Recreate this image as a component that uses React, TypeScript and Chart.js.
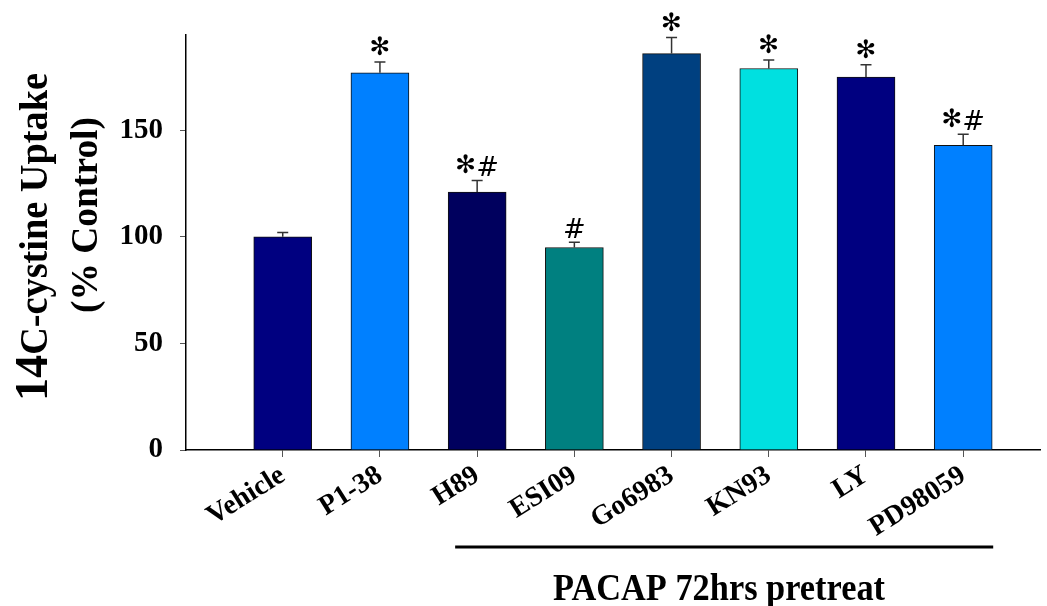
import React, { useEffect, useRef } from 'react';
import { Chart, registerables } from 'chart.js';

Chart.register(...registerables);

const categories = ['Vehicle', 'P1-38', 'H89', 'ESI09', 'Go6983', 'KN93', 'LY', 'PD98059'];
const uptake = [100, 177, 121, 95, 186, 179, 175, 143];
const sem = [2, 5, 5.5, 2.5, 7.5, 4, 5.8, 5.2];
const marks = ['', '*', '*#', '#', '*', '*', '*', '*#'];
const barColors = ['#000080', '#0080FF', '#00005E', '#008080', '#004080', '#00E0E0', '#000080', '#0080FF'];
const yTicks = [0, 50, 100, 150];
const yTitleNumber = '14';
const yTitleLine1 = 'C-cystine Uptake';
const yTitleLine2 = '(% Control)';
const groupLabel = 'PACAP 72hrs pretreat';
const groupFrom = 2;
const groupTo = 7;

const SERIF = '"Liberation Serif", "Times New Roman", serif';

const overlay = {
  id: 'overlay',
  afterDatasetsDraw(chart: any) {
    const ctx = chart.ctx;
    const meta = chart.getDatasetMeta(0);
    const ys = chart.scales.y;
    ctx.save();
    meta.data.forEach((bar: any, i: number) => {
      const x = bar.x;
      const top = ys.getPixelForValue(uptake[i]);
      const capY = ys.getPixelForValue(uptake[i] + sem[i]);
      ctx.strokeStyle = '#333';
      ctx.lineWidth = 1.5;
      ctx.beginPath();
      ctx.moveTo(x, top);
      ctx.lineTo(x, capY);
      ctx.moveTo(x - 5.5, capY);
      ctx.lineTo(x + 5.5, capY);
      ctx.stroke();
      const m = marks[i];
      if (m) {
        const starFont = 'bold 25px "DejaVu Sans", sans-serif';
        const hashFont = 'oblique 27px "DejaVu Sans", sans-serif';
        const parts = m.split('').map((c) => (c === '*' ? { t: '\u273B', f: starFont, gap: 6 } : { t: '#', f: hashFont, gap: 4 }));
        let total = 0;
        parts.forEach((p) => {
          ctx.font = p.f;
          total += ctx.measureText(p.t).width;
        });
        let cx = x - total / 2;
        ctx.fillStyle = '#000';
        ctx.textBaseline = 'alphabetic';
        ctx.textAlign = 'left';
        parts.forEach((p) => {
          ctx.font = p.f;
          const mt = ctx.measureText(p.t);
          ctx.fillText(p.t, cx, capY - p.gap - mt.actualBoundingBoxDescent);
          cx += mt.width;
        });
      }
    });
    ctx.restore();
  },
  afterDraw(chart: any) {
    const ctx = chart.ctx;
    const xs = chart.scales.x;
    ctx.save();
    ctx.fillStyle = '#000';
    ctx.textBaseline = 'alphabetic';
    // y title line 1
    ctx.save();
    ctx.translate(47, 401);
    ctx.rotate(-Math.PI / 2);
    ctx.textAlign = 'left';
    ctx.font = `bold 47px ${SERIF}`;
    const wNum = ctx.measureText(yTitleNumber).width;
    ctx.font = `bold 39px ${SERIF}`;
    const wTxt = ctx.measureText(yTitleLine1).width;
    const k1 = 328 / (wNum + wTxt);
    ctx.scale(k1, 1);
    ctx.font = `bold 47px ${SERIF}`;
    ctx.fillText(yTitleNumber, 0, 0);
    ctx.font = `bold 39px ${SERIF}`;
    ctx.fillText(yTitleLine1, wNum, 0);
    ctx.restore();
    // y title line 2
    ctx.save();
    ctx.translate(97, 215);
    ctx.rotate(-Math.PI / 2);
    ctx.textAlign = 'center';
    ctx.font = `bold 38px ${SERIF}`;
    const w2 = ctx.measureText(yTitleLine2).width;
    ctx.scale(196 / w2, 1);
    ctx.fillText(yTitleLine2, 0, 0);
    ctx.restore();
    // group line and label
    const x1 = xs.getPixelForValue(groupFrom) - 22;
    const x2 = xs.getPixelForValue(groupTo) + 30;
    ctx.strokeStyle = '#000';
    ctx.lineWidth = 3;
    ctx.beginPath();
    ctx.moveTo(x1, 547);
    ctx.lineTo(x2, 547);
    ctx.stroke();
    ctx.save();
    ctx.font = `bold 37px ${SERIF}`;
    const wg = ctx.measureText(groupLabel).width;
    const kg = 332 / wg;
    ctx.translate(719, 600);
    ctx.scale(kg, 1);
    ctx.textAlign = 'center';
    ctx.fillText(groupLabel, 0, 0);
    ctx.restore();
    ctx.restore();
  },
};

export default function App() {
  const ref = useRef<HTMLCanvasElement | null>(null);
  useEffect(() => {
    if (!ref.current) return;
    const chart = new Chart(ref.current, {
      type: 'bar',
      data: {
        datasets: [
          {
            data: uptake.map((v, i) => ({ x: i, y: v })),
            backgroundColor: barColors,
            borderColor: '#111',
            borderWidth: 1,
            barThickness: 58,
          },
        ],
      },
      options: {
        animation: false,
        responsive: true,
        maintainAspectRatio: false,
        layout: { padding: { top: 33, right: 7, left: 0, bottom: 0 } },
        plugins: { legend: { display: false }, tooltip: { enabled: false } },
        scales: {
          x: {
            type: 'linear',
            min: -0.995,
            max: 7.79,
            offset: false,
            afterBuildTicks: (s: any) => {
              s.ticks = categories.map((_, i) => ({ value: i }));
            },
            afterFit: (s: any) => {
              s.height = 156;
            },
            grid: { offset: false, drawOnChartArea: false, drawTicks: true, tickLength: 7, color: '#555', lineWidth: 1 },
            border: { display: true, color: '#000', width: 1.5 },
            ticks: {
              autoSkip: false,
              maxRotation: 32,
              minRotation: 32,
              padding: 2,
              color: '#000',
              font: { family: SERIF, size: 28, weight: 'bold' },
              callback: (v: any) => categories[v] ?? '',
            },
          },
          y: {
            min: 0,
            max: 195,
            afterBuildTicks: (s: any) => {
              s.ticks = yTicks.map((v) => ({ value: v }));
            },
            afterFit: (s: any) => {
              s.width = 186;
            },
            grid: { drawOnChartArea: false, drawTicks: true, tickLength: 6, color: '#555' },
            border: { display: true, color: '#000', width: 1.5 },
            ticks: {
              padding: 17,
              color: '#000',
              font: { family: SERIF, size: 29, weight: 'bold' },
            },
          },
        },
      },
      plugins: [overlay],
    } as any);
    return () => chart.destroy();
  }, []);
  return (
    <div style={{ position: 'fixed', left: 0, top: 0, width: 1047, height: 606 }}>
      <canvas ref={ref} />
    </div>
  );
}
